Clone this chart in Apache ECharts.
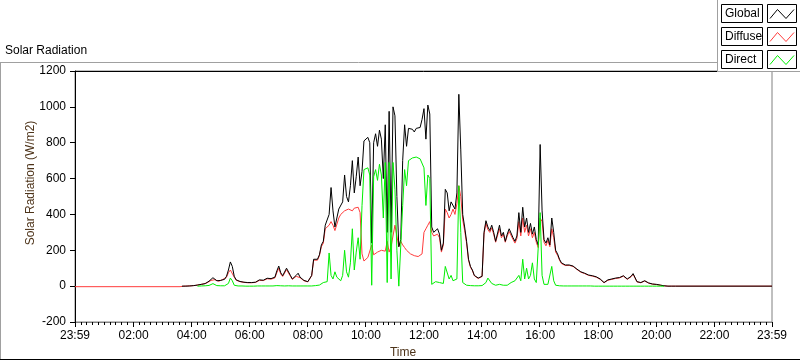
<!DOCTYPE html>
<html><head><meta charset="utf-8">
<script src="https://cdn.jsdelivr.net/npm/echarts@6/dist/echarts.min.js"></script>
<style>html,body{margin:0;padding:0;background:#fff}#c{width:800px;height:361px}</style>
</head><body><div id="c"></div>
<script>
// sample times: minutes after midnight, starting 03:40, every 4 minutes
const startMin = 220, stepMin = 4;

const globalVals = [
0,0,0,1,1,
2,3,4,6,8,10,12,14,20,28,35,47,42,30,28,
32,40,38,55,90,135,110,55,35,28,26,24,22,20,20,
20,20,21,22,28,35,38,33,40,44,38,42,36,50,85,
112,75,58,62,100,105,60,40,42,60,72,50,45,32,28,
25,18,60,150,160,150,175,230,250,340,330,400,550,420,330,
380,430,420,470,620,500,470,560,700,520,610,720,560,640,810,
820,830,800,240,800,850,780,870,820,600,900,300,975,300,1000,
950,500,220,260,700,900,780,880,870,875,860,880,870,885,930,
990,820,1010,960,330,300,290,320,290,200,240,540,520,420,470,
480,430,520,1070,760,400,330,250,150,110,90,60,50,45,48,
55,300,365,330,310,340,300,250,260,340,280,300,250,290,320,
330,270,250,280,410,300,440,330,380,300,350,290,330,260,230,
790,420,260,240,270,230,380,300,200,180,150,130,125,118,112,
118,120,112,105,95,88,80,78,72,66,62,60,58,55,52,
48,40,30,20,22,35,42,40,38,45,40,48,52,58,55,
40,30,55,70,60,25,18,20,28,30,28,18,15,12,10,
10,8,6,4,2,0,0,0,0,0,0,0
];
const diffuseVals = [
0,0,0,1,1,
2,3,4,6,8,10,12,14,19,26,32,38,36,28,27,
30,37,36,50,75,90,80,50,33,27,25,23,21,19,19,
19,19,20,21,26,32,35,31,37,41,35,39,34,46,75,
100,68,54,58,92,96,55,38,40,55,66,47,42,30,27,
24,18,58,145,155,145,170,220,240,320,310,340,360,340,310,
320,380,400,410,420,415,430,425,420,435,430,440,410,180,140,
150,160,170,230,175,185,190,180,200,210,195,250,190,220,230,
340,280,220,250,230,215,200,190,180,175,170,168,165,170,180,
300,320,340,360,300,280,270,290,270,190,230,430,410,380,400,
430,400,460,560,500,370,310,240,145,105,87,58,48,43,46,
54,290,350,315,300,325,290,245,255,320,270,290,245,280,305,
315,260,240,265,360,280,380,300,340,280,320,270,300,245,215,
380,360,245,225,255,220,320,270,190,172,145,126,122,115,110,
116,118,110,103,93,86,78,76,70,64,60,58,56,53,50,
46,38,29,19,21,33,40,38,36,43,38,46,50,56,53,
38,29,53,67,58,24,17,19,27,29,27,17,14,11,9,
9,7,5,3,2,0,0,0,0,0,0,0
];
const directVals = [
null,null,null,null,null,
null,null,null,0,0,1,1,2,2,4,8,14,8,3,2,
2,3,2,5,15,45,30,5,2,1,1,1,0,0,0,
0,0,0,0,1,1,1,1,1,1,1,1,1,2,3,
3,2,1,1,2,2,1,1,1,1,1,1,1,1,1,
1,1,1,2,3,4,6,10,20,30,25,185,60,40,80,
50,60,30,60,200,80,50,130,320,90,190,270,150,450,650,
650,660,620,5,610,650,590,680,620,380,690,20,690,40,690,
540,200,0,10,450,650,560,700,705,715,712,720,718,710,700,
660,450,620,600,10,20,25,30,20,10,15,110,100,40,60,
30,20,40,560,300,20,10,5,3,3,2,2,2,2,2,
3,8,20,45,40,15,8,5,5,10,5,5,3,5,10,
20,20,30,40,60,30,150,40,100,40,60,130,40,20,20,
410,60,10,15,10,5,110,30,5,3,2,2,1,1,1,
1,1,1,1,1,1,1,1,1,1,1,1,0,0,0,
0,0,0,0,0,0,0,0,0,0,0,0,0,0,0,
0,0,0,0,0,0,0,0,0,0,0,0,0,0,0,
0,0,0,0,0,null,null,null,null,null,null,null
];
// night values outside the sampled span
const globalEnd = [[1439, 0]];
const diffuseNight = [[-1, -3], [216, -3]];
const diffuseEnd = [[1439, 0]];

const tickValues = [-1,120,240,360,480,600,720,840,960,1080,1200,1320,1439];
const tickLabels = ['23:59','02:00','04:00','06:00','08:00','10:00','12:00','14:00','16:00','18:00','20:00','22:00','23:59'];

const seriesNames = ['Global','Diffuse','Direct'];
const seriesColors = ['#000000','#ff3c3c','#00ee00'];

function toPairs(vals){
  const out=[];
  vals.forEach((v,i)=>{ if(v!==null) out.push([startMin+i*stepMin, v]); });
  return out;
}
const gData = toPairs(globalVals).concat(globalEnd);
const dData = diffuseNight.concat(toPairs(diffuseVals)).concat(diffuseEnd);
const rData = toPairs(directVals);

const labelMap = {};
tickValues.forEach((v,i)=>labelMap[v]=tickLabels[i]);

const FONT='"Liberation Sans", Arial, sans-serif';
const chart = echarts.init(document.getElementById('c'), null, {renderer:'canvas'});
const L=75, R=772, T=71, B=322;

function legendRow(i, y){
  const name=seriesNames[i], col=seriesColors[i];
  return [
    {type:'rect', shape:{x:721.5,y:y+0.5,width:41,height:18}, style:{fill:'#fff',stroke:'#000',lineWidth:1}, z:100},
    {type:'text', x:725, y:y+10, style:{text:name, font:'12px '+FONT, fill:'#000', verticalAlign:'middle'}, z:101},
    {type:'rect', shape:{x:767.5,y:y+0.5,width:29,height:18}, style:{fill:'#fff',stroke:'#000',lineWidth:1}, z:100},
    {type:'polyline', shape:{points:[[770,y+14.5],[777.5,y+5.5],[786,y+14.5],[794,y+5.5]]}, style:{stroke:col,lineWidth:1,fill:null}, z:101}
  ];
}

chart.setOption({
  animation:false,
  backgroundColor:'#fff',
  grid:{left:L, right:800-R, top:T, bottom:361-B, show:true, borderColor:'#808080', borderWidth:1, backgroundColor:'#fff'},
  xAxis:{
    type:'value', min:-1, max:1439, interval:120, position:'bottom',
    axisLine:{show:true, onZero:false, lineStyle:{color:'#808080',width:1}},
    axisTick:{show:true, length:5, lineStyle:{color:'#000',width:1}},
    minorTick:{show:true, splitNumber:10, length:3, lineStyle:{color:'#000',width:1}},
    axisLabel:{show:true, customValues:tickValues, formatter:v=>labelMap[v]!==undefined?labelMap[v]:'', color:'#000', fontSize:12, fontFamily:FONT, margin:8, showMinLabel:true, showMaxLabel:true, hideOverlap:false},
    splitLine:{show:false}, minorSplitLine:{show:false}
  },
  yAxis:{
    type:'value', min:-200, max:1200, interval:200,
    axisLine:{show:true, onZero:false, lineStyle:{color:'#000',width:1}},
    axisTick:{show:true, length:5, lineStyle:{color:'#000'}},
    axisLabel:{color:'#000', fontSize:12, fontFamily:FONT, margin:9, formatter:v=>String(v)},
    splitLine:{show:false}
  },
  series:[
    {name:'Diffuse', type:'line', data:dData, symbol:'none', showSymbol:false, lineStyle:{color:seriesColors[1],width:1}, itemStyle:{color:seriesColors[1]}, z:2, clip:true},
    {name:'Global', type:'line', data:gData, symbol:'none', showSymbol:false, lineStyle:{color:seriesColors[0],width:1}, itemStyle:{color:seriesColors[0]}, z:3, clip:true},
    {name:'Direct', type:'line', data:rData, symbol:'none', showSymbol:false, lineStyle:{color:seriesColors[2],width:1}, itemStyle:{color:seriesColors[2]}, z:4, clip:true}
  ],
  graphic:[
    {type:'line', shape:{x1:0,y1:62.5,x2:717,y2:62.5}, style:{stroke:'#a0a0a0',lineWidth:1}, z:50},
    {type:'line', shape:{x1:0.5,y1:62,x2:0.5,y2:360}, style:{stroke:'#a0a0a0',lineWidth:1}, z:50},
    {type:'line', shape:{x1:0,y1:359.5,x2:800,y2:359.5}, style:{stroke:'#000',lineWidth:1}, z:50},
    {type:'line', shape:{x1:L,y1:T+0.5,x2:R,y2:T+0.5}, style:{stroke:'#000',lineWidth:1}, z:50},
    {type:'text', x:5, y:51, style:{text:'Solar Radiation', font:'12px '+FONT, fill:'#000', verticalAlign:'middle'}, z:50},
    {type:'text', x:31, y:183, rotation:Math.PI/2, style:{text:'Solar Radiation (W/m2)', font:'12px '+FONT, fill:'#4d3319', align:'center', verticalAlign:'middle'}, z:50},
    {type:'text', x:403, y:353, style:{text:'Time', font:'12px '+FONT, fill:'#4d3319', align:'center', verticalAlign:'middle'}, z:50},
    {type:'rect', shape:{x:717,y:0,width:83,height:72}, style:{fill:'#fff',stroke:null}, z:90},
    {type:'line', shape:{x1:717.5,y1:0,x2:717.5,y2:72}, style:{stroke:'#a0a0a0',lineWidth:1}, z:91},
    {type:'line', shape:{x1:717,y1:71.5,x2:800,y2:71.5}, style:{stroke:'#a0a0a0',lineWidth:1}, z:91},
    ...legendRow(0,4), ...legendRow(1,27), ...legendRow(2,50)
  ]
});
</script>
</body></html>
